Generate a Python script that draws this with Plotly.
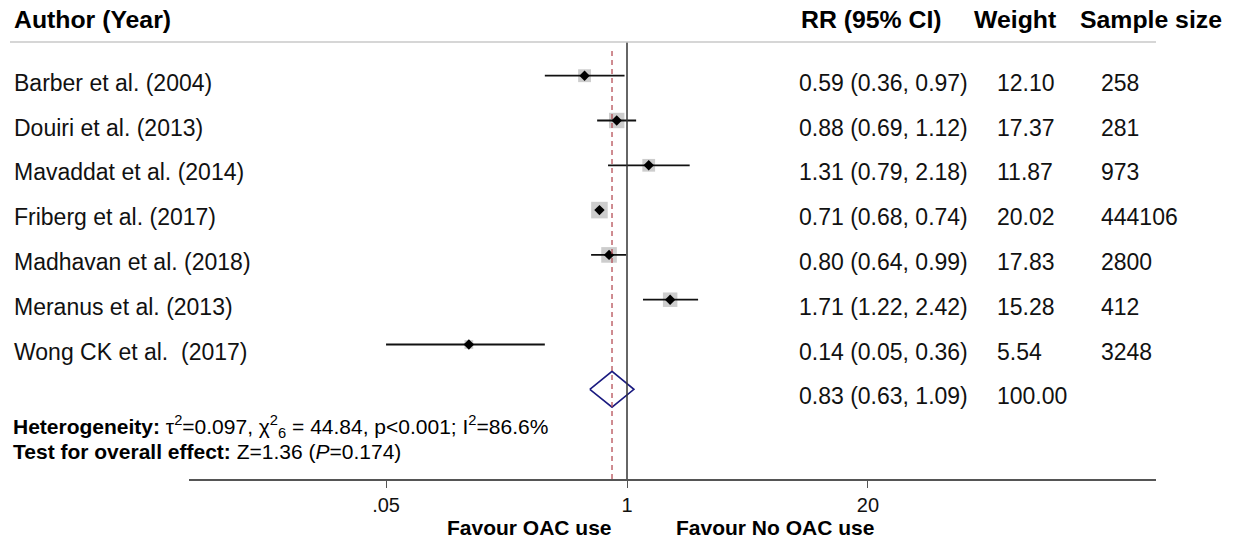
import plotly.graph_objects as go
import math

# ---------------- data ----------------
authors = ["Barber et al. (2004)", "Douiri et al. (2013)", "Mavaddat et al. (2014)",
           "Friberg et al. (2017)", "Madhavan et al. (2018)", "Meranus et al. (2013)",
           "Wong CK et al.  (2017)"]
rr = [0.59, 0.88, 1.31, 0.71, 0.80, 1.71, 0.14]
ci_low = [0.36, 0.69, 0.79, 0.68, 0.64, 1.22, 0.05]
ci_high = [0.97, 1.12, 2.18, 0.74, 0.99, 2.42, 0.36]
weights = [12.10, 17.37, 11.87, 20.02, 17.83, 15.28, 5.54]
sample_size = [258, 281, 973, 444106, 2800, 412, 3248]

overall_rr = 0.83
overall_low = 0.63
overall_high = 1.09
overall_weight = 100.00

tick_vals = [0.05, 1, 20]
tick_text = [".05", "1", "20"]

headers = ["Author (Year)", "RR (95% CI)", "Weight", "Sample size"]
het_text = ("<b>Heterogeneity:</b> \u03c4<sup>2</sup>=0.097, \u03c7<sup>2</sup><sub>6</sub> = 44.84, "
            "p&lt;0.001; I<sup>2</sup>=86.6%")
test_text = "<b>Test for overall effect:</b> Z=1.36 (<i>P</i>=0.174)"
favour_left = "Favour OAC use"
favour_right = "Favour No OAC use"

# ---------------- layout geometry ----------------
W, H = 1234, 542
L, R, T, B = 189, 78, 42, 63
PW = W - L - R
PH = H - T - B
FONT = "Liberation Sans, Arial, sans-serif"


def px(xpix):
    return (xpix - L) / PW


def py(ypix):
    return (H - B - ypix) / PH


rows = list(range(1, len(authors) + 1))
overall_row = len(authors) + 1
text_off = 0.16

fig = go.Figure()

# weight boxes
fig.add_trace(go.Scatter(
    x=rr, y=rows, mode="markers",
    marker=dict(symbol="square", size=[3.7 * math.sqrt(w) for w in weights],
                color="#b8b8b8", line=dict(width=0)),
    hoverinfo="skip", showlegend=False))

# CI lines
cx, cy = [], []
for lo, hi, r in zip(ci_low, ci_high, rows):
    cx += [lo, hi, None]
    cy += [r, r, None]
fig.add_trace(go.Scatter(x=cx, y=cy, mode="lines",
                         line=dict(color="#111111", width=1.8),
                         hoverinfo="skip", showlegend=False))

# point estimates
fig.add_trace(go.Scatter(
    x=rr, y=rows, mode="markers",
    marker=dict(symbol="diamond", size=8, color="#000000"),
    hoverinfo="skip", showlegend=False))

# overall diamond
dh = 0.4
fig.add_trace(go.Scatter(
    x=[overall_low, overall_rr, overall_high, overall_rr, overall_low],
    y=[overall_row, overall_row - dh, overall_row, overall_row + dh, overall_row],
    mode="lines", line=dict(color="#1a1a80", width=1.6),
    hoverinfo="skip", showlegend=False))

# reference lines
fig.add_shape(type="line", xref="x", yref="paper", x0=1, x1=1, y0=0, y1=1,
              line=dict(color="#333333", width=1.5))
fig.add_shape(type="line", xref="x", yref="paper", x0=overall_rr, x1=overall_rr,
              y0=0, y1=py(47), line=dict(color="#b04048", width=1.2, dash="5px,4px"))
# header line
fig.add_shape(type="line", xref="paper", yref="paper", x0=px(10), x1=1, y0=1, y1=1,
              line=dict(color="#c8c8c8", width=1.5))

ann = []
# headers
head_x = [12, 799, 972, 1078]
for h, hx in zip(headers, head_x):
    ann.append(dict(text="<b>%s</b>" % h, x=px(hx), y=py(20), xref="paper", yref="paper",
                    xanchor="left", yanchor="middle", showarrow=False,
                    font=dict(family=FONT, size=24.8, color="#000000")))

col_x = [12, 797, 995, 1099]
for a, r_, lo, hi, w, n, row in zip(authors, rr, ci_low, ci_high, weights, sample_size, rows):
    vals = [a, "%.2f (%.2f, %.2f)" % (r_, lo, hi), "%.2f" % w, str(n)]
    for v, vx in zip(vals, col_x):
        ann.append(dict(text=v, x=px(vx), y=row + text_off, xref="paper", yref="y",
                        xanchor="left", yanchor="middle", showarrow=False,
                        font=dict(family=FONT, size=23, color="#111111")))
# overall row text
for v, vx in zip(["%.2f (%.2f, %.2f)" % (overall_rr, overall_low, overall_high),
                  "%.2f" % overall_weight], col_x[1:3]):
    ann.append(dict(text=v, x=px(vx), y=overall_row + text_off, xref="paper", yref="y",
                    xanchor="left", yanchor="middle", showarrow=False,
                    font=dict(family=FONT, size=23, color="#111111")))

# heterogeneity notes
for t, yy in [(het_text, 426), (test_text, 451.5)]:
    ann.append(dict(text=t, x=px(11), y=py(yy), xref="paper", yref="paper",
                    xanchor="left", yanchor="middle", showarrow=False,
                    font=dict(family=FONT, size=21, color="#000000")))

# favour labels
ann.append(dict(text="<b>%s</b>" % favour_left, x=px(529), y=py(527), xref="paper", yref="paper",
                xanchor="center", yanchor="middle", showarrow=False,
                font=dict(family=FONT, size=21, color="#000000")))
ann.append(dict(text="<b>%s</b>" % favour_right, x=px(775), y=py(527), xref="paper", yref="paper",
                xanchor="center", yanchor="middle", showarrow=False,
                font=dict(family=FONT, size=21, color="#000000")))

x_lo = -438 / 185.2
x_hi = 529 / 185.2
y_top = 1 + (T - 75.7) / 44.8
y_bot = 1 + (H - B - 75.7) / 44.8

fig.update_layout(
    width=W, height=H,
    margin=dict(l=L, r=R, t=T, b=B, pad=0),
    paper_bgcolor="white", plot_bgcolor="white",
    annotations=ann,
    xaxis=dict(type="log", range=[x_lo, x_hi], tickvals=tick_vals, ticktext=tick_text,
               ticks="outside", ticklen=7, tickwidth=1.2, tickcolor="#555555",
               showline=True, linecolor="#555555", linewidth=1.5,
               showgrid=False, zeroline=False, fixedrange=True,
               tickfont=dict(family=FONT, size=20, color="#111111")),
    yaxis=dict(range=[y_bot, y_top], visible=False, fixedrange=True),
    showlegend=False,
)

fig.write_html("out.html", config={"displayModeBar": False},
               post_script="document.body.style.margin='0';document.body.style.overflow='hidden';")
